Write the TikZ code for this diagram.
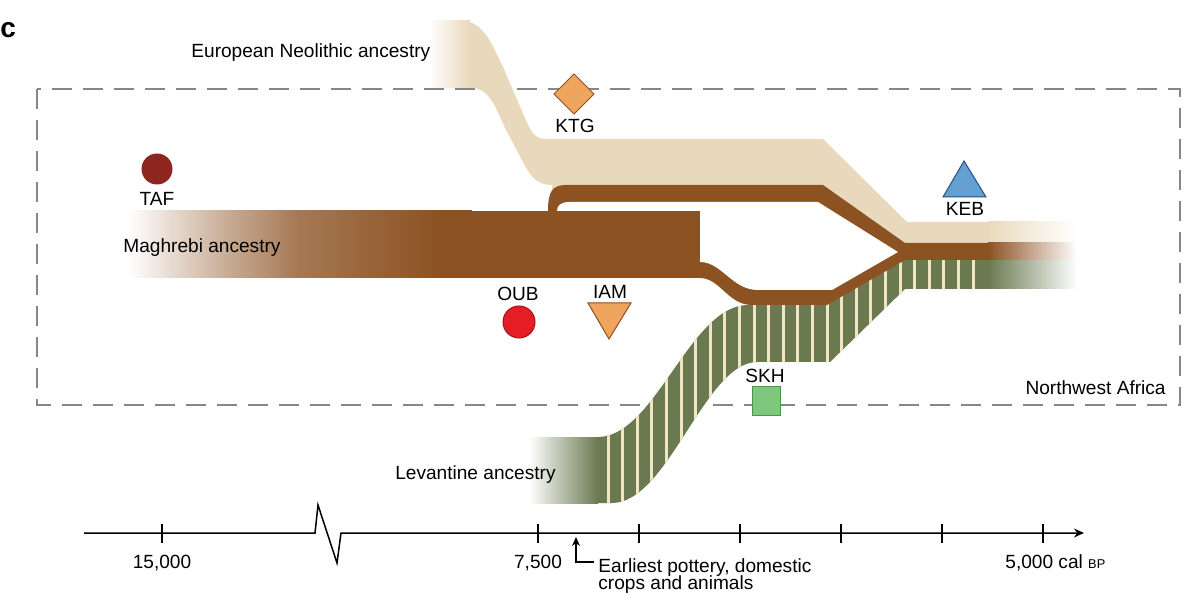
\documentclass[tikz,border=0pt]{standalone}
\usepackage{fontspec}
\setmainfont{Liberation Sans}
\usetikzlibrary{arrows.meta}
\definecolor{beige}{RGB}{233,217,188}
\definecolor{brn}{RGB}{140,82,34}
\definecolor{grn}{RGB}{106,121,80}
\definecolor{cream}{RGB}{240,230,196}
\definecolor{boxgray}{RGB}{135,135,135}
\definecolor{tafred}{RGB}{140,38,30}
\definecolor{oubred}{RGB}{228,30,36}
\definecolor{orng}{RGB}{240,165,95}
\definecolor{orngline}{RGB}{140,80,30}
\definecolor{kebblue}{RGB}{100,160,210}
\definecolor{kebline}{RGB}{40,80,130}
\definecolor{skhgreen}{RGB}{125,200,125}
\definecolor{skhline}{RGB}{70,150,70}
\colorlet{brnA}{brn!50!white}
\colorlet{brnB}{brn!78!white}
\pgfdeclarehorizontalshading{magfade}{100bp}{color(0bp)=(white); color(25bp)=(white); color(40bp)=(brnA); color(50bp)=(brnB); color(70bp)=(brn); color(100bp)=(brn)}
\tikzset{
  lbl/.style={font=\fontsize{9.55}{11.5}\selectfont, inner sep=0pt},
  dashbox/.style={draw=boxgray, line width=0.8pt, dash pattern=on 10pt off 5.5pt},
  axisline/.style={draw=black, line width=0.75pt},
  tickline/.style={draw=black, line width=0.75pt},
  symline/.style={line width=0.5pt},
}
\def\grnpath{(530,437) -- (598,437) .. controls (655,437) and (690,305) .. (748,305) -- (827,303) -- (905,255) -- (988,255) -- (988,289) -- (905,289) -- (830,362) -- (757,362) .. controls (705,362) and (668,503) .. (612,503) -- (530,503) -- cycle}
\begin{document}
\begin{tikzpicture}[x=0.5pt,y=-0.5pt]
\fill[white] (0,0) rectangle (1200,609);
\useasboundingbox (0,0) rectangle (1200,609);

% panel letter
\node[font=\bfseries\fontsize{14}{15}\selectfont, inner sep=0pt, anchor=base west] (panel) at (0,38) {c};

% region box
\draw[dashbox] (37,89) rectangle (1180,405);
\node[lbl, anchor=base east] (nwa) at (1166,394) {Northwest Africa};

% European Neolithic band
\fill[beige] (430,21) -- (462,21) .. controls (484,21) and (492,45) .. (503,67) -- (528,125) .. controls (533,135) and (537,139) .. (547,139) -- (823,139) -- (907,222) -- (1076,222) -- (1076,246) -- (907,246) -- (823,190) -- (552,190) -- (552,185) .. controls (538,185) and (532,178) .. (525,166) -- (505,128) .. controls (495,105) and (488,88) .. (472,88) -- (430,88) -- cycle;
\shade[left color=white, right color=beige] (429,21) rectangle (470,88);
\shade[left color=beige, right color=white] (988,222) rectangle (1077,243);

% Levantine band
\fill[grn] \grnpath;
\begin{scope}
\clip \grnpath;
\foreach \i in {0,...,25} \fill[cream] ({606.5+14.6*\i},240) rectangle ++(3,270);
\end{scope}
\shade[left color=white, right color=grn] (529,437) rectangle (598,503);
\shade[left color=grn, right color=white] (988,260) rectangle (1077,289);

% Maghrebi branches
\fill[brn] (548,211) .. controls (548,192) and (552,185) .. (566,185) -- (823,185) -- (905,243) -- (988,243) -- (988,260) -- (905,260) -- (827,305) -- (752,305) .. controls (728,305) and (720,278) .. (700,278) -- (700,211) -- cycle;
\fill[white] (557,211) .. controls (557,205) and (561,202) .. (570,202) -- (818,202) -- (898,252) -- (832,290) -- (758,290) .. controls (732,290) and (722,262) .. (700,262) -- (700,211) -- cycle;
\fill[brn] (440,211) rectangle (700,278);
\shade[shading=magfade] (128,211) rectangle (472,278);
\shade[left color=brn, right color=white] (988,243) rectangle (1077,260);

% band labels
\node[lbl, anchor=base west] (eur) at (191,58) {European Neolithic ancestry};
\node[lbl, anchor=base west] (mag) at (123,253) {Maghrebi ancestry};
\node[lbl, anchor=base east] (lev) at (556,480) {Levantine ancestry};

% samples
\fill[tafred] (157,169) circle[radius=15.5];
\node[lbl, anchor=base] (taf) at (157,206) {TAF};

\filldraw[fill=orng, draw=orngline, symline] (574,74) -- (594,94) -- (574,114) -- (554,94) -- cycle;
\node[lbl, anchor=base] (ktg) at (575,133) {KTG};

\filldraw[fill=kebblue, draw=kebline, symline] (964,161) -- (986,197) -- (943,197) -- cycle;
\node[lbl, anchor=base] (keb) at (965,216) {KEB};

\filldraw[fill=oubred, draw=oubred!70!black, symline] (519,322) circle[radius=16];
\node[lbl, anchor=base] (oub) at (518,301) {OUB};

\filldraw[fill=orng, draw=orngline, symline] (588,303) -- (631,303) -- (609,339) -- cycle;
\node[lbl, anchor=base] (iam) at (610,299) {IAM};

\filldraw[fill=skhgreen, draw=skhline, symline] (752,387) rectangle (780,415);
\node[lbl, anchor=base] (skh) at (765,383) {SKH};

% time axis
\coordinate (ax0) at (84,533);
\coordinate (axend) at (1084,533);
\draw[axisline, -{Stealth[length=5pt,width=4.5pt]}] (ax0) -- (315,533) -- (318,505) -- (337,563) -- (341,533) -- (axend);
\foreach \x in {162,538,639,740,841,942,1043} \draw[tickline] (\x,524) -- (\x,543);
\node[lbl, anchor=base] (t15) at (162,568) {15,000};
\node[lbl, anchor=base] (t75) at (538,568) {7,500};
\node[lbl, anchor=base west] (t5) at (1005,568) {5,000 cal {\fontsize{6.4}{7}\selectfont BP}};

\coordinate (annfoot) at (594,562);
\coordinate (anntip) at (576,537);
\draw[line width=0.75pt, -{Stealth[length=4.5pt,width=4pt]}] (annfoot) -- (576,562) -- (anntip);
\node[lbl, anchor=base west] (ann1) at (598,572) {Earliest pottery, domestic};
\node[lbl, anchor=base west] (ann2) at (598,589) {crops and animals};
\end{tikzpicture}
\end{document}
